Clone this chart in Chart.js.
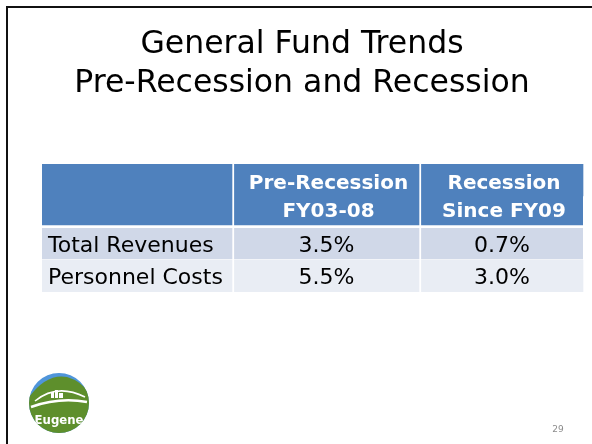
<!DOCTYPE html>
<html lang="en">
<head>
    <meta charset="UTF-8">
    <title>General Fund Trends</title>
    <script src="https://cdn.jsdelivr.net/npm/chart.js"></script>
    <style>
        body {
            margin: 0;
            width: 592px;
            height: 444px;
            overflow: hidden;
            background-color: #fff;
            position: relative;
        }
        .frame {
            position: absolute;
            left: 6px;
            top: 6px;
            width: 700px;
            height: 600px;
            border: 2px solid #111;
            pointer-events: none;
        }
        canvas {
            position: absolute;
            left: 0;
            top: 0;
        }
    </style>
</head>
<body>
    <div class="frame"></div>
    <canvas id="myChart" width="592" height="444"></canvas>

    <script>
        // Dados da tabela
        const titleLines = ['General Fund Trends', 'Pre-Recession and Recession'];
        const rowLabels = ['Total Revenues', 'Personnel Costs'];
        const columnHeaders = [['Pre-Recession', 'FY03-08'], ['Recession', 'Since FY09']];
        const totalRevenues = [3.5, 0.7];
        const personnelCosts = [5.5, 3.0];
        const pageNumber = '29';

        // Layout (px) e cores
        const colWidths = [192, 187, 162];
        const slots = ['head-a', 'head-b', 'row-1', 'row-2'];
        const slotColors = ['#4F81BD', '#4F81BD', '#D0D8E8', '#E9EDF4'];
        const slotBottom = [0, 3, 1, 0];
        const fontFamily = '"DejaVu Sans", Verdana, sans-serif';

        const edges = [0];
        colWidths.forEach(w => edges.push(edges[edges.length - 1] + w));

        const datasets = colWidths.map((w, c) => ({
            label: 'col' + c,
            data: slots.map(() => [edges[c], edges[c + 1]]),
            backgroundColor: slotColors,
            borderColor: '#fff',
            borderWidth: (ctx) => ({
                top: 0,
                left: 0,
                right: c < colWidths.length - 1 ? 2 : 0,
                bottom: slotBottom[ctx.dataIndex]
            }),
            borderSkipped: false,
            grouped: false,
            barPercentage: 1,
            categoryPercentage: 1
        }));

        // Textos das células, posicionados a partir das barras
        const cellText = {
            id: 'cellText',
            afterDatasetsDraw(chart) {
                const ctx = chart.ctx;
                const rows = [totalRevenues, personnelCosts];
                ctx.save();
                ctx.textBaseline = 'alphabetic';
                chart.data.datasets.forEach((ds, c) => {
                    const els = chart.getDatasetMeta(c).data;
                    const left = Math.min(els[0].x, els[0].base);
                    const right = Math.max(els[0].x, els[0].base) - (c < colWidths.length - 1 ? 2 : 0);
                    const cx = (left + right) / 2;

                    // cabeçalho
                    if (c > 0) {
                        const hy = (els[0].y + els[1].y) / 2;
                        ctx.fillStyle = '#fff';
                        ctx.font = 'bold 20px ' + fontFamily;
                        ctx.textAlign = 'center';
                        const lines = columnHeaders[c - 1];
                        ctx.fillText(lines[0], cx + 2, hy - 14 + 7.3);
                        ctx.fillText(lines[1], cx + 2, hy + 14 + 7.3);
                    }

                    // linhas
                    rowLabels.forEach((label, r) => {
                        const el = els[r + 2];
                        const y = el.y + 8;
                        ctx.fillStyle = '#000';
                        ctx.font = '22px ' + fontFamily;
                        if (c === 0) {
                            ctx.textAlign = 'left';
                            ctx.fillText(label, left + 6, y);
                        } else {
                            ctx.textAlign = 'center';
                            ctx.fillText(rows[r][c - 1].toFixed(1) + '%', cx, y);
                        }
                    });
                });
                ctx.restore();
            }
        };

        // Logo e número da página
        const slideDecor = {
            id: 'slideDecor',
            afterDraw(chart) {
                const ctx = chart.ctx;
                const cx = 59, cy = 403, r = 30;
                ctx.save();
                ctx.beginPath();
                ctx.arc(cx, cy, r, 0, Math.PI * 2);
                ctx.clip();
                ctx.fillStyle = '#4F95DA';
                ctx.fillRect(cx - r, cy - r, 2 * r, 2 * r);
                ctx.fillStyle = '#5E8F2C';
                ctx.beginPath();
                ctx.moveTo(cx - r, cy - 6);
                ctx.quadraticCurveTo(cx - 12, cy - 30, cx + 8, cy - 26);
                ctx.quadraticCurveTo(cx + 22, cy - 22, cx + r, cy - 10);
                ctx.lineTo(cx + r, cy + r);
                ctx.lineTo(cx - r, cy + r);
                ctx.closePath();
                ctx.fill();
                ctx.strokeStyle = '#fff';
                ctx.lineWidth = 1.5;
                ctx.beginPath();
                ctx.moveTo(cx - 24, cy - 2);
                ctx.quadraticCurveTo(cx - 2, cy - 20, cx + 26, cy - 6);
                ctx.stroke();
                ctx.lineWidth = 2.5;
                ctx.beginPath();
                ctx.moveTo(cx - 28, cy + 4);
                ctx.quadraticCurveTo(cx, cy - 6, cx + 28, cy - 1);
                ctx.stroke();
                ctx.fillStyle = '#fff';
                ctx.fillRect(cx - 8, cy - 11, 3, 6);
                ctx.fillRect(cx - 4, cy - 13, 3, 8);
                ctx.fillRect(cx, cy - 10, 4, 5);
                ctx.font = 'bold 13px "DejaVu Sans Condensed", "DejaVu Sans", sans-serif';
                ctx.textAlign = 'center';
                ctx.textBaseline = 'alphabetic';
                ctx.fillText('Eugene', cx, cy + 21);
                ctx.restore();

                ctx.save();
                ctx.fillStyle = '#8C8C8C';
                ctx.font = '9px ' + fontFamily;
                ctx.textAlign = 'center';
                ctx.fillText(pageNumber, 558, 432);
                ctx.restore();
            }
        };

        const myChart = new Chart(document.getElementById('myChart'), {
            type: 'bar',
            data: {
                labels: slots,
                datasets: datasets
            },
            options: {
                indexAxis: 'y',
                responsive: false,
                animation: false,
                layout: {
                    padding: { left: 12, right: 0, top: 0, bottom: 152 }
                },
                scales: {
                    x: { type: 'linear', min: -30, max: 550, display: false },
                    y: { type: 'category', display: false }
                },
                plugins: {
                    legend: { display: false },
                    tooltip: { enabled: false },
                    title: {
                        display: true,
                        text: titleLines,
                        color: '#000',
                        font: { family: fontFamily, size: 31.5, weight: 'normal', lineHeight: '39px' },
                        padding: { top: 25, bottom: 61 }
                    }
                }
            },
            plugins: [cellText, slideDecor]
        });
    </script>
</body>
</html>
